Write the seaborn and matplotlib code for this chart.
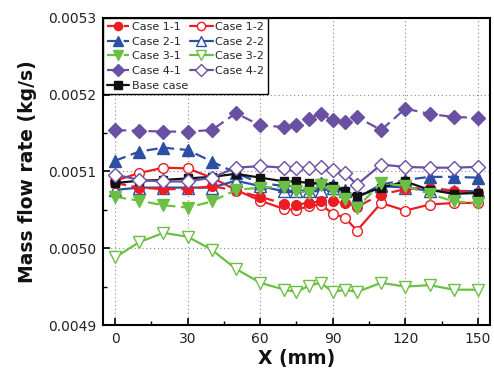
import matplotlib
matplotlib.use("Agg")
import matplotlib.pyplot as plt
from matplotlib.ticker import MultipleLocator, FormatStrFormatter
import numpy as np
import pandas as pd
import seaborn as sns

# Axial positions along the channel (mm)
x_mm = [0, 10, 20, 30, 40, 50, 60, 70, 75, 80, 85, 90, 95, 100, 110, 120, 130, 140, 150]

# Mass flow rate (kg/s) for each case
case_1_1 = [0.005085, 0.005079, 0.005077, 0.005077, 0.005081, 0.005075, 0.005067, 0.005058, 0.005057,
            0.005059, 0.005061, 0.005061, 0.005059, 0.005054, 0.005070, 0.005077, 0.005079, 0.005075, 0.005072]
case_1_2 = [0.005088, 0.005098, 0.005105, 0.005104, 0.005092, 0.005076, 0.005062, 0.005051, 0.005050,
            0.005055, 0.005057, 0.005045, 0.005040, 0.005023, 0.005059, 0.005049, 0.005057, 0.005059, 0.005059]
case_2_1 = [0.005114, 0.005126, 0.005131, 0.005128, 0.005113, 0.005098, 0.005085, 0.005081, 0.005081,
            0.005083, 0.005085, 0.005083, 0.005076, 0.005066, 0.005083, 0.005089, 0.005093, 0.005093, 0.005092]
case_2_2 = [0.005076, 0.005079, 0.005079, 0.005079, 0.005079, 0.005088, 0.005081, 0.005074, 0.005075,
            0.005075, 0.005074, 0.005079, 0.005074, 0.005066, 0.005081, 0.005079, 0.005075, 0.005075, 0.005074]
case_3_1 = [0.005067, 0.005062, 0.005056, 0.005053, 0.005061, 0.005076, 0.005079, 0.005080, 0.005075,
            0.005072, 0.005083, 0.005074, 0.005064, 0.005053, 0.005085, 0.005081, 0.005071, 0.005061, 0.005059]
case_3_2 = [0.004988, 0.005008, 0.005020, 0.005015, 0.004998, 0.004973, 0.004955, 0.004946, 0.004943,
            0.004951, 0.004955, 0.004943, 0.004946, 0.004943, 0.004955, 0.004950, 0.004952, 0.004946, 0.004946]
case_4_1 = [0.005154, 0.005153, 0.005152, 0.005152, 0.005154, 0.005176, 0.005160, 0.005158, 0.005161,
            0.005169, 0.005175, 0.005167, 0.005164, 0.005171, 0.005154, 0.005182, 0.005175, 0.005171, 0.005170]
case_4_2 = [0.005096, 0.005089, 0.005087, 0.005087, 0.005092, 0.005105, 0.005107, 0.005105, 0.005105,
            0.005105, 0.005106, 0.005102, 0.005098, 0.005083, 0.005109, 0.005106, 0.005105, 0.005105, 0.005106]
base_case = [0.005085, 0.005088, 0.005089, 0.005091, 0.005093, 0.005097, 0.005092, 0.005087, 0.005087,
             0.005085, 0.005085, 0.005081, 0.005074, 0.005068, 0.005079, 0.005087, 0.005076, 0.005071, 0.005072]

x_ticks = [0, 30, 60, 90, 120, 150]
y_ticks = [0.0049, 0.0050, 0.0051, 0.0052, 0.0053]

RED = "#ec1c24"
BLUE = "#2d4fa3"
GREEN = "#6cbf45"
PURPLE = "#6a50a3"
BLACK = "#111111"

# label, values, colour, marker, filled, dashed, marker size
series = [
    ("Case 1-1", case_1_1, RED, "o", True, True, 7),
    ("Case 2-1", case_2_1, BLUE, "^", True, True, 8),
    ("Case 3-1", case_3_1, GREEN, "v", True, True, 8),
    ("Case 4-1", case_4_1, PURPLE, "D", True, True, 7.5),
    ("Base case", base_case, BLACK, "s", True, False, 6),
    ("Case 1-2", case_1_2, RED, "o", False, False, 7),
    ("Case 2-2", case_2_2, BLUE, "^", False, False, 8),
    ("Case 3-2", case_3_2, GREEN, "v", False, False, 8),
    ("Case 4-2", case_4_2, PURPLE, "D", False, False, 7.5),
]

sns.set_theme(style="ticks")
plt.rcParams["font.family"] = ["DejaVu Sans"]
plt.rcParams["xtick.direction"] = "in"
plt.rcParams["ytick.direction"] = "in"

fig = plt.figure(figsize=(4.94, 3.78), dpi=100)
ax = fig.add_axes([0.2085, 0.1402, 0.7834, 0.8122])

draw_order = ["Case 3-2", "Case 1-2", "Case 2-2", "Case 1-1", "Case 2-1", "Base case",
              "Case 3-1", "Case 4-2", "Case 4-1"]
for label, vals, color, marker, filled, dashed, ms in series:
    df = pd.DataFrame({"x": x_mm, "y": vals})
    sns.lineplot(
        data=df, x="x", y="y", ax=ax, label=label, color=color,
        marker=marker, markersize=ms,
        markerfacecolor=color if filled else "white",
        markeredgecolor=color, markeredgewidth=1.0,
        linewidth=1.6,
        linestyle=(0, (5, 2.5)) if dashed else "-",
        zorder=3 + draw_order.index(label),
    )

ax.set_xlim(-5, 155)
ax.set_ylim(0.0049, 0.0053)
ax.set_xticks(x_ticks)
ax.set_yticks(y_ticks)
ax.xaxis.set_minor_locator(MultipleLocator(15))
ax.yaxis.set_minor_locator(MultipleLocator(0.00005))
ax.yaxis.set_major_formatter(FormatStrFormatter("%.4f"))
ax.tick_params(which="major", length=5, width=1.2, labelsize=10, color="black",
               labelcolor="#222222", top=False, right=False, pad=5)
ax.tick_params(which="minor", length=3, width=1.0, color="black", top=False, right=False)

ax.grid(True, which="major", color="#8a8a8a", linestyle=(0, (1, 2.5)), linewidth=0.8)
for sp in ax.spines.values():
    sp.set_visible(True)
    sp.set_color("black")
    sp.set_linewidth(1.5)

ax.set_xlabel("X (mm)", fontsize=13.5, fontweight="bold", labelpad=2, color="#111111")
ax.set_ylabel("Mass flow rate (kg/s)", fontsize=13.5, fontweight="bold", labelpad=8, color="#111111")

handles, labels = ax.get_legend_handles_labels()
order = [labels.index(s[0]) for s in series]
leg = ax.legend([handles[i] for i in order], [labels[i] for i in order],
                ncol=2, loc="upper left", bbox_to_anchor=(0.0, 1.0),
                fontsize=8, frameon=True, fancybox=False, framealpha=1,
                edgecolor="black", borderaxespad=0, borderpad=0.35,
                labelspacing=0.42, handlelength=2.0, handletextpad=0.25,
                columnspacing=0.2, markerscale=0.85)
leg.get_frame().set_linewidth(1.0)
leg.set_zorder(20)

fig.savefig("out.png", dpi=100)
